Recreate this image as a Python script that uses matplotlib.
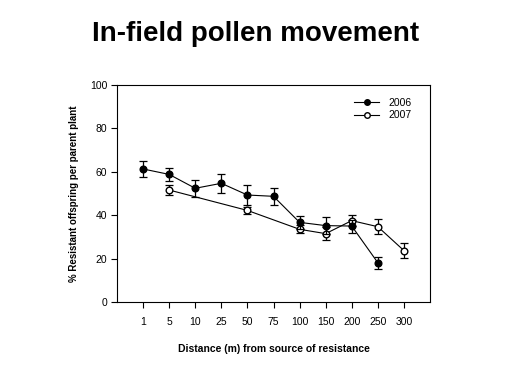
import matplotlib
matplotlib.use("Agg")
import matplotlib.pyplot as plt
from matplotlib.lines import Line2D

plt.rcParams['font.family'] = ['Liberation Sans', 'DejaVu Sans']

categories = ["1", "5", "10", "25", "50", "75", "100", "150", "200", "250", "300"]
y2006 = [61.3, 58.8, 52.4, 54.7, 49.3, 48.7, 36.7, 35.2, 35.0, 18.1, None]
e2006 = [3.5, 3.0, 3.8, 4.3, 4.5, 4.0, 3.1, 4.0, 3.0, 2.8, None]
y2007 = [None, 51.6, None, None, 42.2, None, 33.5, 31.5, 37.5, 34.7, 23.7]
e2007 = [None, 2.3, None, None, 1.5, None, 1.8, 2.9, 2.7, 3.5, 3.5]
series_labels = ["2006", "2007"]

fig = plt.figure(figsize=(5.12, 3.84), dpi=100)
ax = fig.add_axes([117/512, 1 - 302/384, (430-117)/512, (302-85)/384])

def series(vals, errs):
    xs, ys, es = [], [], []
    for i, (v, e) in enumerate(zip(vals, errs)):
        if v is not None:
            xs.append(i + 1); ys.append(v); es.append(e)
    return xs, ys, es

x6, v6, er6 = series(y2006, e2006)
x7, v7, er7 = series(y2007, e2007)

ax.errorbar(x7, v7, yerr=er7, fmt='-o', color='black', mfc='white', mec='black',
            ms=4.8, lw=0.8, elinewidth=0.9, capsize=3, capthick=0.9, zorder=2)
ax.errorbar(x6, v6, yerr=er6, fmt='-o', color='black', mfc='black', mec='black',
            ms=4.8, lw=0.8, elinewidth=0.9, capsize=3, capthick=0.9, zorder=3)

ax.set_xlim(0, 12)
ax.set_ylim(0, 100)
ax.set_xticks(range(1, 12))
ax.set_xticklabels(categories)
ax.set_yticks([0, 20, 40, 60, 80, 100])
ax.tick_params(axis='both', direction='out', length=4, width=0.8, labelsize=7.5)
ax.tick_params(axis='x', pad=7)
ax.tick_params(axis='y', pad=3)
for s in ax.spines.values():
    s.set_linewidth(0.8)

ax.set_ylabel('% Resistant offspring per parent plant', fontsize=7, fontweight='bold', labelpad=8)
ax.set_xlabel('Distance (m) from source of resistance', fontsize=7.5, fontweight='bold', labelpad=12)

handles = [Line2D([], [], color='black', lw=0.8, marker='o', ms=4, mfc='black', mec='black'),
           Line2D([], [], color='black', lw=0.8, marker='o', ms=4, mfc='white', mec='black')]
ax.legend(handles, series_labels, loc='upper right', frameon=False,
          fontsize=7.5, handlelength=2.4, handletextpad=0.9, labelspacing=0.25,
          borderaxespad=0.0, bbox_to_anchor=(0.955, 0.96))

fig.text(0.5, 1 - 34/384, 'In-field pollen movement', ha='center', va='center',
         fontsize=20, fontweight='bold')

fig.savefig('out.png', dpi=100)
